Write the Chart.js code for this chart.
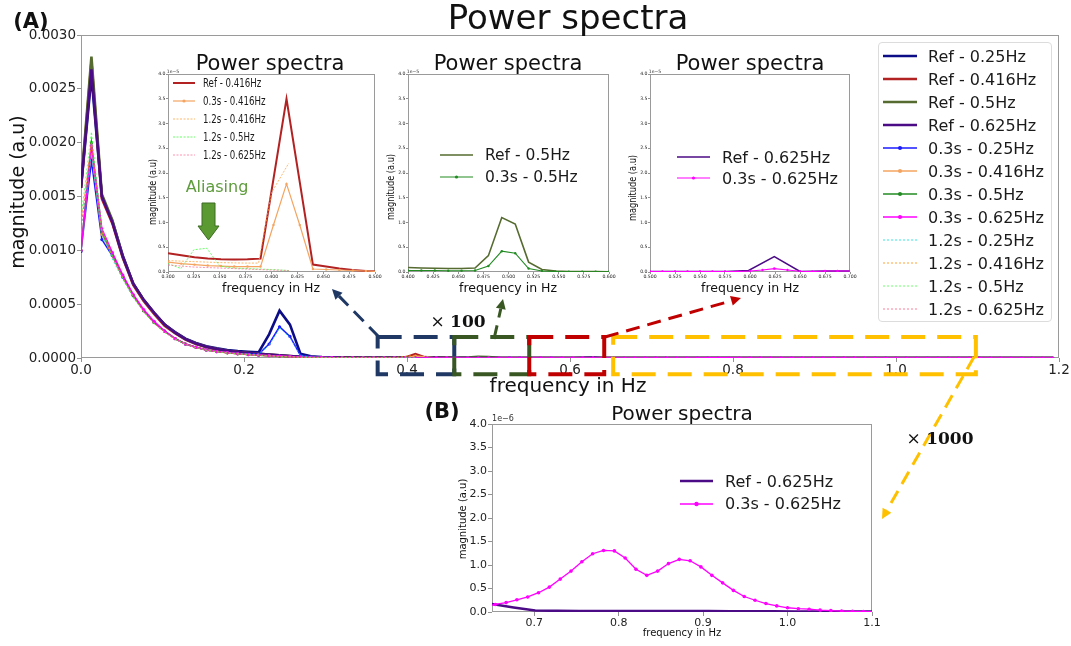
<!DOCTYPE html>
<html><head><meta charset="utf-8">
<script src="https://cdn.jsdelivr.net/npm/chart.js@4.4.1/dist/chart.umd.min.js"></script>
<style>
body{margin:0;background:#fff;width:1071px;height:646px;overflow:hidden;position:relative;font-family:"DejaVu Sans",sans-serif;color:#111}
canvas{position:absolute}
.t{position:absolute;white-space:nowrap;line-height:1;transform:translate(-50%,-50%)}
.row{position:absolute;display:flex;align-items:center;white-space:nowrap;height:20px}
.row svg{flex:none}
</style></head><body>
<canvas id="main" width="1071" height="646" style="left:0;top:0"></canvas>
<canvas id="in1" width="245" height="218" style="left:140px;top:70px"></canvas>
<canvas id="in2" width="240" height="218" style="left:380px;top:70px"></canvas>
<canvas id="in3" width="240" height="218" style="left:622px;top:70px"></canvas>
<canvas id="cb" width="450" height="236" style="left:440px;top:410px"></canvas>
<svg id="alias" width="1071" height="646" style="position:absolute;left:0;top:0;pointer-events:none">
<polygon points="202,203 215,203 215,226 219,226 208.5,240 198,226 202,226" fill="#5b9a32" stroke="#3d6b22" stroke-width="1"/>
</svg>
<div id="texts"></div>
<script>
// ---------------- DATA ----------------
const freqMain=[0,0.0128,0.0256,0.0385,0.0513,0.0641,0.0769,0.0897,0.1026,0.1154,
0.1282,0.141,0.1538,0.1667,0.1795,0.1923,0.2051,0.2179,0.2308,0.2436,
0.2564,0.2692,0.2821,0.2949,0.3077,0.3205,0.3333,0.3462,0.359,0.3718,
0.3846,0.3974,0.4103,0.4231,0.4359,0.4487,0.4615,0.4744,0.4872,0.5,
0.5128,0.5256,0.5385,0.5513,0.5641,0.5769,0.5897,0.6026,0.6154,0.6282,
0.641,0.6538,0.6667,0.6795,0.6923,0.7051,0.7179,0.7308,0.7436,0.7564,
0.7692,0.7821,0.7949,0.8077,0.8205,0.8333,0.8462,0.859,0.8718,0.8846,
0.8974,0.9103,0.9231,0.9359,0.9487,0.9615,0.9744,0.9872,1.0,1.0128,
1.0256,1.0385,1.0513,1.0641,1.0769,1.0897,1.1026,1.1154,1.1282,1.141,
1.1538,1.1667,1.1795,1.1923];

const ref025=[1.58e-3,2.62e-3,1.50e-3,1.27e-3,9.5e-4,6.9e-4,5.4e-4,4.2e-4,3.1e-4,2.4e-4,
1.8e-4,1.4e-4,1.1e-4,9.0e-5,7.5e-5,6.5e-5,5.8e-5,5.2e-5,2.2e-4,4.4e-4,
3.1e-4,4.0e-5,1.6e-5,9e-6,6e-6,4.5e-6,3.5e-6,3e-6,2.6e-6,2.3e-6,
2e-6,1.8e-6,1.6e-6,1.4e-6,1.2e-6,1e-6,9e-7,8e-7,7e-7,6e-7,
5e-7,5e-7,4e-7,4e-7,3e-7,3e-7,3e-7,2e-7,2e-7,2e-7,
1e-7,1e-7,1e-7,1e-7,1e-7,1e-7,1e-7,1e-7,1e-7,1e-7,
0,0,0,0,0,0,0,0,0,0, 0,0,0,0,0,0,0,0,0,0, 0,0,0,0,0,0,0,0,0,0, 0,0,0,0];
const ref0416=[1.58e-3,2.75e-3,1.48e-3,1.25e-3,9.3e-4,6.8e-4,5.3e-4,4.1e-4,3.0e-4,2.3e-4,
1.7e-4,1.3e-4,1.0e-4,8.0e-5,6.5e-5,5.5e-5,4.6e-5,3.8e-5,3.0e-5,2.3e-5,
1.6e-5,1.1e-5,7e-6,5e-6,3.8e-6,3.1e-6,2.7e-6,2.6e-6,2.6e-6,2.6e-6,
2.7e-6,3.0e-6,3.5e-5,1.5e-6,1.0e-6,7e-7,5e-7,3e-7,2e-7,1e-7,
0,0,0,0,0,0,0,0,0,0, 0,0,0,0,0,0,0,0,0,0, 0,0,0,0,0,0,0,0,0,0,
0,0,0,0,0,0,0,0,0,0, 0,0,0,0,0,0,0,0,0,0, 0,0,0,0];
const ref05=[1.60e-3,2.80e-3,1.52e-3,1.28e-3,9.4e-4,6.9e-4,5.4e-4,4.2e-4,3.1e-4,2.35e-4,
1.75e-4,1.35e-4,1.05e-4,8.3e-5,6.7e-5,5.6e-5,4.7e-5,3.9e-5,3.1e-5,2.4e-5,
1.7e-5,1.1e-5,7e-6,5e-6,4e-6,3e-6,2.5e-6,2e-6,1.6e-6,1.3e-6,
1.1e-6,1e-6,9e-7,8e-7,8e-7,8e-7,9e-7,3.3e-6,1.1e-5,9.7e-6,
2e-6,5e-7,2e-7,1e-7,1e-7,1e-7,1e-7,1e-7,1e-7,1e-7,
0,0,0,0,0,0,0,0,0,0, 0,0,0,0,0,0,0,0,0,0, 0,0,0,0,0,0,0,0,0,0,
0,0,0,0,0,0,0,0,0,0, 0,0,0,0];
const ref0625=[1.58e-3,2.68e-3,1.50e-3,1.26e-3,9.4e-4,6.9e-4,5.4e-4,4.2e-4,3.1e-4,2.35e-4,
1.75e-4,1.35e-4,1.05e-4,8.3e-5,6.7e-5,5.6e-5,4.7e-5,3.9e-5,3.1e-5,2.4e-5,
1.7e-5,1.1e-5,7e-6,5e-6,4e-6,3e-6,2.5e-6,2e-6,1.6e-6,1.3e-6,
1.1e-6,1e-6,9e-7,8e-7,7e-7,6e-7,5e-7,4e-7,3e-7,2e-7,
2e-7,1e-7,1e-7,1e-7,1e-7,1e-7,2e-7,3e-7,1.5e-6,3.1e-6,
2e-7,1.6e-7,1e-7,5e-8,3e-8,2.5e-8,2e-8,2e-8,2e-8,2e-8,
2e-8,2e-8,2e-8,2e-8,2e-8,1e-8,1e-8,1e-8,1e-8,1e-8,
1e-8,1e-8,1e-8,1e-8,1e-8,1e-8,1e-8,1e-8,1e-8,1e-8,
0,0,0,0,0,0,0,0,0,0, 0,0,0,0];

const s025=[9.9e-4,1.83e-3,1.10e-3,9.5e-4,7.5e-4,5.8e-4,4.4e-4,3.3e-4,2.5e-4,1.8e-4,
1.3e-4,1.0e-4,7.5e-5,6.0e-5,5.0e-5,4.2e-5,3.7e-5,3.5e-5,1.3e-4,2.9e-4,
2.0e-4,2.5e-5,1.0e-5,6e-6,4e-6,3e-6,2.5e-6,2e-6,1.7e-6,1.5e-6,
1.3e-6,1.2e-6,1.1e-6,1e-6,9e-7,8e-7,7e-7,6e-7,5e-7,5e-7,
4e-7,4e-7,3e-7,3e-7,3e-7,3e-7,2e-7,2e-7,2e-7,2e-7,
1e-7,1e-7,1e-7,1e-7,1e-7,1e-7,1e-7,1e-7,1e-7,1e-7,
1e-7,1e-7,1e-7,1e-7,1e-7,1e-7,1e-7,1e-7,1e-7,1e-7,
0,0,0,0,0,0,0,0,0,0, 0,0,0,0,0,0,0,0,0,0, 0,0,0,0];
const s0416=[1.0e-3,1.95e-3,1.15e-3,9.6e-4,7.6e-4,5.8e-4,4.4e-4,3.3e-4,2.5e-4,1.8e-4,
1.3e-4,1.0e-4,7.5e-5,6.0e-5,4.8e-5,3.9e-5,3.2e-5,2.6e-5,2.1e-5,1.6e-5,
1.2e-5,8e-6,5e-6,3.5e-6,2.2e-6,2.0e-6,1.7e-6,1.5e-6,1.3e-6,1.2e-6,
1.2e-6,1.2e-6,1.78e-5,9.5e-6,6e-7,5e-7,4e-7,3e-7,2e-7,2e-7,
1e-7,1e-7,1e-7,1e-7,1e-7,1e-7,1e-7,1e-7,1e-7,1e-7,
0,0,0,0,0,0,0,0,0,0, 0,0,0,0,0,0,0,0,0,0, 0,0,0,0,0,0,0,0,0,0,
0,0,0,0,0,0,0,0,0,0, 0,0,0,0];
const s05=[1.0e-3,2.0e-3,1.17e-3,9.6e-4,7.6e-4,5.8e-4,4.4e-4,3.3e-4,2.5e-4,1.8e-4,
1.3e-4,1.0e-4,7.5e-5,6.0e-5,4.8e-5,3.9e-5,3.2e-5,2.6e-5,2.1e-5,1.6e-5,
1.2e-5,8e-6,5e-6,3.5e-6,2.2e-6,1.8e-6,1.5e-6,1.2e-6,1e-6,8e-7,
6e-7,5e-7,4e-7,3e-7,3e-7,3e-7,3e-7,1.2e-6,4.2e-6,3.8e-6,
7e-7,2e-7,1e-7,1e-7,1e-7,5e-8,5e-8,5e-8,5e-8,5e-8,
0,0,0,0,0,0,0,0,0,0, 0,0,0,0,0,0,0,0,0,0, 0,0,0,0,0,0,0,0,0,0,
0,0,0,0,0,0,0,0,0,0, 0,0,0,0];
const s0625Head=[1.0e-3,1.97e-3,1.20e-3,9.8e-4,7.7e-4,5.9e-4,4.5e-4,3.4e-4,2.5e-4,1.8e-4,
1.3e-4,1.0e-4,7.5e-5,6.0e-5,5.0e-5,4.0e-5,3.2e-5,2.7e-5,2.2e-5,1.8e-5,
1.4e-5,1.0e-5,7e-6,5e-6,3.5e-6,2.5e-6,2e-6,1.6e-6,1.3e-6,1.1e-6,
1e-6,9e-7,8e-7,7e-7,6e-7,5e-7,4e-7,3e-7,3e-7,3e-7,
3e-7,3e-7,3e-7,3e-7,3e-7,3e-7,3e-7,4e-7,5e-7,7e-7];
const s0625Tail=[8e-9,6e-9,5e-9,4e-9,3e-9,2e-9,2e-9];

const c025=[1.2e-3,1.90e-3,1.15e-3,9.2e-4,7.3e-4,5.6e-4,4.3e-4,3.2e-4,2.4e-4,1.75e-4,
1.3e-4,9.5e-5,7.2e-5,5.8e-5,4.8e-5,4.0e-5,3.6e-5,3.4e-5,1.2e-4,2.8e-4,
1.9e-4,2.2e-5,8e-6,5e-6,3e-6,2.2e-6,2e-6,1.8e-6,1.6e-6,1.4e-6,1.2e-6,1e-6,1e-6];
const c0416=[1.25e-3,2.0e-3,1.17e-3,9.4e-4,7.4e-4,5.7e-4,4.3e-4,3.2e-4,2.4e-4,1.75e-4,
1.3e-4,9.5e-5,7.2e-5,5.8e-5,4.7e-5,3.8e-5,3.1e-5,2.5e-5,2.0e-5,1.5e-5,
1.1e-5,7e-6,4.5e-6,3e-6,2.3e-6,2.1e-6,2e-6,1.9e-6,1.85e-6,1.8e-6,1.8e-6,1.6e-5,2.2e-5];
const c05=[1.3e-3,2.1e-3,1.2e-3,9.5e-4,7.4e-4,5.7e-4,4.3e-4,3.2e-4,2.4e-4,1.75e-4,
1.3e-4,9.5e-5,7.2e-5,5.8e-5,4.7e-5,3.8e-5,3.1e-5,2.5e-5,2.0e-5,1.5e-5,
1.1e-5,7e-6,4e-6,2.5e-6,1.7e-6,4.5e-6,4.8e-6,1.2e-6,8e-7,7e-7,6e-7,5e-7,4e-7];
const c0625=[1.2e-3,2.0e-3,1.18e-3,9.4e-4,7.4e-4,5.7e-4,4.3e-4,3.2e-4,2.4e-4,1.75e-4,
1.3e-4,9.5e-5,7.2e-5,5.8e-5,4.7e-5,3.8e-5,3.1e-5,2.5e-5,2.0e-5,1.5e-5,
1.1e-5,7e-6,4e-6,2.5e-6,1.4e-6,1.2e-6,1e-6,8e-7,7e-7,6e-7,5e-7,3e-7,2e-7];

// inset 1 (units 1e-5)
const in1RefX=[0.300,0.3128,0.3256,0.3384,0.3512,0.364,0.3768,0.3894,0.4145,0.440,0.4528,0.4656,0.4784,0.4912,0.504];
const in1RefY=[0.38,0.34,0.30,0.275,0.26,0.255,0.258,0.27,3.5,0.15,0.11,0.07,0.04,0.02,0.01];
const in1SX=[0.300,0.3128,0.3256,0.3384,0.3512,0.364,0.3768,0.3894,0.4019,0.4145,0.4273,0.440,0.4528,0.4656,0.4784,0.4912,0.504];
const in1SY=[0.20,0.17,0.15,0.13,0.12,0.11,0.11,0.11,0.95,1.78,0.95,0.06,0.05,0.04,0.03,0.02,0.01];
const in1CX=[0.300,0.3125,0.325,0.3375,0.350,0.3625,0.375,0.3875,0.400,0.4167];
const in1C0416=[0.23,0.22,0.21,0.20,0.19,0.185,0.18,0.18,1.6,2.2];
const in1C05=[0.17,0.07,0.45,0.48,0.12,0.08,0.07,0.06,0.05,0.03];
const in1C0625=[0.14,0.12,0.10,0.09,0.08,0.07,0.06,0.05,0.04,0.03];
// inset 2
const in2X=[0.400,0.4133,0.4267,0.440,0.4533,0.4667,0.480,0.4933,0.5067,0.520,0.5333,0.5467,0.560,0.5733,0.5867,0.600];
const in2Ref=[0.09,0.08,0.075,0.07,0.07,0.08,0.33,1.1,0.97,0.2,0.05,0.02,0.01,0.01,0.01,0.005];
const in2S=[0.03,0.03,0.03,0.025,0.025,0.03,0.12,0.42,0.38,0.07,0.02,0.01,0.005,0.005,0.005,0.005];
// inset 3
const in3RefX=[0.500,0.5256,0.5513,0.5769,0.5986,0.6243,0.650,0.6756,0.700];
const in3RefY=[0.01,0.01,0.01,0.01,0.03,0.31,0.01,0.02,0.02];
const in3SX=[0.500,0.5125,0.525,0.5375,0.550,0.5625,0.575,0.5875,0.600,0.6125,0.6243,0.6375,0.650,0.6625,0.675,0.6875,0.700];
const in3SY=[0.01,0.01,0.01,0.01,0.01,0.01,0.01,0.01,0.02,0.04,0.07,0.04,0.015,0.01,0.02,0.02,0.02];
// panel B (units 1e-6)
const bPink=[0.12,0.16,0.20,0.26,0.32,0.41,0.53,0.70,0.87,1.07,1.24,1.31,1.30,1.15,0.91,0.78,0.87,1.03,1.12,1.09,0.96,
0.78,0.62,0.46,0.33,0.25,0.18,0.13,0.09,0.07,0.06,0.04,0.03,0.02,0.015,0.01,0.01];
const bRefX=[0.6243,0.6495,0.6756,0.7012,0.7268,0.7525,0.7781,0.8037,0.8294,0.855,0.8806,0.9062,0.9319,0.9575,0.9831,1.0087,1.0344,1.06,1.0856,1.1112];
const bRef=[3.1,0.17,0.095,0.03,0.025,0.02,0.02,0.02,0.02,0.02,0.02,0.02,0.015,0.015,0.015,0.01,0.01,0.01,0.01,0.01];

// ticks
const xTicksMain=[0,0.2,0.4,0.6,0.8,1.0,1.2];
const yTicksMain=[0,0.0005,0.001,0.0015,0.002,0.0025,0.003];
const yTicksInset=[0,0.5,1,1.5,2,2.5,3,3.5,4];
const xTicksIn1=[0.3,0.325,0.35,0.375,0.4,0.425,0.45,0.475,0.5];
const xTicksIn2=[0.4,0.425,0.45,0.475,0.5,0.525,0.55,0.575,0.6];
const xTicksIn3=[0.5,0.525,0.55,0.575,0.6,0.625,0.65,0.675,0.7];
const xTicksB=[0.7,0.8,0.9,1.0,1.1];
const yTicksB=[0,0.5,1,1.5,2,2.5,3,3.5,4];

// ---------------- BUILD ----------------
const F="'DejaVu Sans'";
const s0625=s0625Head.concat(bPink.map(v=>v*1e-6),s0625Tail);
const bPinkX=freqMain.slice(50,50+bPink.length);
const pts=(xs,ys)=>ys.map((v,i)=>({x:xs[i],y:v}));

const mainSeries=[
 {label:'Ref - 0.25Hz',y:ref025,color:'#0c0c86',w:2.6},
 {label:'Ref - 0.416Hz',y:ref0416,color:'#b22222',w:2.6},
 {label:'Ref - 0.5Hz',y:ref05,color:'#556b2f',w:2.6},
 {label:'Ref - 0.625Hz',y:ref0625,color:'#4b0a86',w:2.6},
 {label:'0.3s - 0.25Hz',y:s025,color:'#1a1aff',w:1.5,pr:1.6},
 {label:'0.3s - 0.416Hz',y:s0416,color:'#f4a460',w:1.5,pr:1.6},
 {label:'0.3s - 0.5Hz',y:s05,color:'#228b22',w:1.5,pr:1.6},
 {label:'0.3s - 0.625Hz',y:s0625,color:'#ff00ff',w:1.5,pr:1.6},
 {label:'1.2s - 0.25Hz',y:c025,color:'rgba(0,225,225,0.8)',w:1,dash:[2,2]},
 {label:'1.2s - 0.416Hz',y:c0416,color:'rgba(255,140,0,0.8)',w:1,dash:[2,2]},
 {label:'1.2s - 0.5Hz',y:c05,color:'rgba(60,255,60,0.75)',w:1,dash:[2,2]},
 {label:'1.2s - 0.625Hz',y:c0625,color:'rgba(255,80,120,0.75)',w:1,dash:[2,2]}
];

function ds(s,data,i){
 return {label:s.label,data,borderColor:s.color,backgroundColor:s.color,borderWidth:s.w,borderDash:s.dash||[],
  pointRadius:s.pr||0,pointHoverRadius:0,pointBorderWidth:0,fill:false,tension:0,order:-i};
}

const framePlugin={id:'frame',beforeDatasetsDraw(c){const a=c.chartArea,ctx=c.ctx;ctx.save();ctx.strokeStyle='#9a9a9a';ctx.lineWidth=1;
 ctx.strokeRect(Math.round(a.left)+0.5,Math.round(a.top)+0.5,Math.round(a.right-a.left)-1,Math.round(a.bottom-a.top)-1);ctx.restore();}};

const zoomBoxes=[
 {x0:0.364,x1:0.458,y0:1.95e-4,y1:-1.5e-4,color:'#1f3864'},
 {x0:0.458,x1:0.550,y0:1.95e-4,y1:-1.5e-4,color:'#385723'},
 {x0:0.550,x1:0.642,y0:1.95e-4,y1:-1.5e-4,color:'#c00000'},
 {x0:0.653,x1:1.098,y0:1.95e-4,y1:-1.5e-4,color:'#ffc000'}
];
const arrows=[
 {from:[379,337],to:[332,289],color:'#1f3864'},
 {from:[494,339],to:[503,299],color:'#385723'},
 {from:[605,337],to:[741,298],color:'#c00000'},
 {from:[974,357],to:[882,519],color:'#ffc000'}
];
const annotPlugin={id:'annot',afterDraw(c){
 const ctx=c.ctx,xs=c.scales.x,ys=c.scales.y;ctx.save();
 ctx.lineWidth=4;ctx.setLineDash([24,12]);
 zoomBoxes.forEach(b=>{const x0=xs.getPixelForValue(b.x0),x1=xs.getPixelForValue(b.x1),y0=ys.getPixelForValue(b.y0),y1=ys.getPixelForValue(b.y1);
  ctx.strokeStyle=b.color;ctx.strokeRect(x0,y0,x1-x0,y1-y0);});
 arrows.forEach(a=>{const [x0,y0]=a.from,[x1,y1]=a.to;const ang=Math.atan2(y1-y0,x1-x0);const L=10,W=5;
  const bx=x1-L*Math.cos(ang),by=y1-L*Math.sin(ang);
  ctx.strokeStyle=a.color;ctx.fillStyle=a.color;ctx.lineWidth=3;ctx.setLineDash([14,8]);
  ctx.beginPath();ctx.moveTo(x0,y0);ctx.lineTo(bx,by);ctx.stroke();
  ctx.setLineDash([]);ctx.beginPath();ctx.moveTo(x1,y1);
  ctx.lineTo(bx+W*Math.sin(ang),by-W*Math.cos(ang));ctx.lineTo(bx-W*Math.sin(ang),by+W*Math.cos(ang));ctx.closePath();ctx.fill();});
 ctx.restore();}};

function axis(min,max,ticks,fmt,font,fit,tl,pad){
 return {type:'linear',min,max,afterBuildTicks:s=>{s.ticks=ticks.map(v=>({value:v}));},afterFit:fit,
  ticks:{font:{size:font,family:F},color:'#222',callback:v=>v.toFixed(fmt),maxRotation:0,autoSkip:false,padding:pad},
  grid:{drawOnChartArea:false,tickLength:tl,color:'#777',lineWidth:0.8},border:{display:false}};
}
const baseOpts=(pad,scales)=>({responsive:false,animation:false,devicePixelRatio:1,events:[],layout:{padding:pad},
 plugins:{legend:{display:false},tooltip:{enabled:false}},scales});

// main chart
new Chart(document.getElementById('main'),{type:'line',
 data:{datasets:mainSeries.map((s,i)=>ds(s,pts(freqMain,s.y),i))},
 options:baseOpts({left:0,top:35,right:12,bottom:0},{
  x:axis(0,1.2,xTicksMain,1,13.5,s=>{s.height=288;},4,0),
  y:axis(0,0.003,yTicksMain,4,13.5,s=>{s.width=81;},4,1)}),
 plugins:[framePlugin,annotPlugin]});

function inset(id,xmin,xmax,xt,sets,padR){
 new Chart(document.getElementById(id),{type:'line',data:{datasets:sets},
  options:baseOpts({left:0,top:4,right:padR,bottom:0},{
   x:axis(xmin,xmax,xt,3,4.6,s=>{s.height=16;},2,0.5),
   y:axis(0,4,yTicksInset,1,4.6,s=>{s.width=28;},2,0.5)}),
  plugins:[framePlugin]});
}
const in1Series=[
 {label:'Ref - 0.416Hz',x:in1RefX,y:in1RefY,color:'#b22222',w:2},
 {label:'0.3s - 0.416Hz',x:in1SX,y:in1SY,color:'#f4a460',w:1.2,pr:1.2},
 {label:'1.2s - 0.416Hz',x:in1CX,y:in1C0416,color:'rgba(255,160,60,0.75)',w:1,dash:[2,1.5]},
 {label:'1.2s - 0.5Hz',x:in1CX,y:in1C05,color:'rgba(80,255,80,0.85)',w:1,dash:[2,1.5]},
 {label:'1.2s - 0.625Hz',x:in1CX,y:in1C0625,color:'rgba(255,110,150,0.75)',w:1,dash:[2,1.5]}];
const in2Series=[
 {label:'Ref - 0.5Hz',x:in2X,y:in2Ref,color:'#556b2f',w:1.6},
 {label:'0.3s - 0.5Hz',x:in2X,y:in2S,color:'#228b22',w:1.2,pr:1.2}];
const in3Series=[
 {label:'Ref - 0.625Hz',x:in3RefX,y:in3RefY,color:'#4b0a86',w:1.5},
 {label:'0.3s - 0.625Hz',x:in3SX,y:in3SY,color:'#ff00ff',w:1.2,pr:1.2}];
inset('in1',0.3,0.5,xTicksIn1,in1Series.map((s,i)=>ds(s,pts(s.x,s.y),i)),10);
inset('in2',0.4,0.6,xTicksIn2,in2Series.map((s,i)=>ds(s,pts(s.x,s.y),i)),11);
inset('in3',0.5,0.7,xTicksIn3,in3Series.map((s,i)=>ds(s,pts(s.x,s.y),i)),12);

// panel B
const bSeries=[
 {label:'Ref - 0.625Hz',x:bRefX,y:bRef,color:'#4b0a86',w:2.5},
 {label:'0.3s - 0.625Hz',x:bPinkX,y:bPink,color:'#ff00ff',w:1.3,pr:1.8}];
new Chart(document.getElementById('cb'),{type:'line',
 data:{datasets:bSeries.map((s,i)=>ds(s,pts(s.x,s.y),i))},
 options:baseOpts({left:0,top:14,right:18,bottom:0},{
  x:axis(0.65,1.1,xTicksB,1,11,s=>{s.height=34;},4,1),
  y:axis(0,4,yTicksB,1,11,s=>{s.width=52;},4,1)}),
 plugins:[framePlugin]});

// ---------------- TEXT / LEGENDS ----------------
const T=document.getElementById('texts');
function txt(html,x,y,style,extra){const d=document.createElement('div');d.className='t';d.innerHTML=html;
 d.style.left=x+'px';d.style.top=y+'px';d.style.cssText+=style;if(extra)d.style.transform='translate(-50%,-50%) '+extra;T.appendChild(d);}
txt('(A)',31,21,'font-size:21px;font-weight:bold;');
txt('Power spectra',568,17,'font-size:34px;');
txt('magnitude (a.u)',17,192,'font-size:19px;','rotate(-90deg)');
txt('frequency in Hz',568,385,'font-size:20px;');
[[270,63],[508,63],[750,63]].forEach(p=>txt('Power spectra',p[0],p[1],'font-size:21px;'));
[[271,288],[508,288],[750,288]].forEach(p=>txt('frequency in Hz',p[0],p[1],'font-size:12.5px;'));
[[152,192],[390,187],[632,188]].forEach(p=>txt('magnitude (a.u)',p[0],p[1],'font-size:10.5px;','rotate(-90deg) scaleX(0.78)'));
[[173,72],[413,72],[655,72]].forEach(p=>txt('1e\u22125',p[0],p[1],'font-size:4.6px;color:#333;'));
txt('Aliasing',217,187,'font-size:16px;color:#5e9c3c;');
txt('\u00d7 <b>100</b>',458,321,"font-size:17px;font-family:'DejaVu Serif',serif;");
txt('\u00d7 <b>1000</b>',940,438,"font-size:17px;font-family:'DejaVu Serif',serif;");
txt('(B)',442,411,'font-size:21px;font-weight:bold;');
txt('Power spectra',682,413,'font-size:20px;');
txt('magnitude (a.u)',463,519,'font-size:10px;','rotate(-90deg)');
txt('frequency in Hz',682,633,'font-size:10px;');
txt('1e\u22126',503,419,'font-size:8px;color:#333;');

function sample(w,s){
 const dash=s.dash&&s.dash.length?`stroke-dasharray="${s.dash.join(' ')}"`:'';
 let h=`<svg width="${w}" height="20"><line x1="0" y1="10" x2="${w}" y2="10" stroke="${s.color}" stroke-width="${s.w}" ${dash}/>`;
 if(s.pr)h+=`<circle cx="${w/2}" cy="10" r="${s.pr+0.4}" fill="${s.color}"/>`;
 return h+'</svg>';
}
function legend(series,left,cy0,dy,sw,gap,fs,extra){
 series.forEach((s,i)=>{const r=document.createElement('div');r.className='row';
  r.style.left=left+'px';r.style.top=(cy0+dy*i-10)+'px';
  r.innerHTML=sample(sw,s)+`<span style="margin-left:${gap}px;font-size:${fs}px;color:#1a1a1a;display:inline-block;${extra||''}">${s.label}</span>`;
  T.appendChild(r);});
}
// main legend frame
const box=document.createElement('div');
box.style.cssText='position:absolute;left:878px;top:42px;width:174px;height:280px;border:1px solid #dcdcdc;border-radius:4px;background:rgba(255,255,255,0.85);box-sizing:border-box;';
T.appendChild(box);
legend(mainSeries,883,56,23,34,11,16);
legend(in1Series,173,83,18,22,8,12,'transform:scaleX(0.72);transform-origin:left center;');
legend(in2Series,440,155,22,33,12,15.5);
legend(in3Series,677,157,21,33,12,16);
legend(bSeries,680,481,22.5,33,12,16);
</script>
</body></html>
